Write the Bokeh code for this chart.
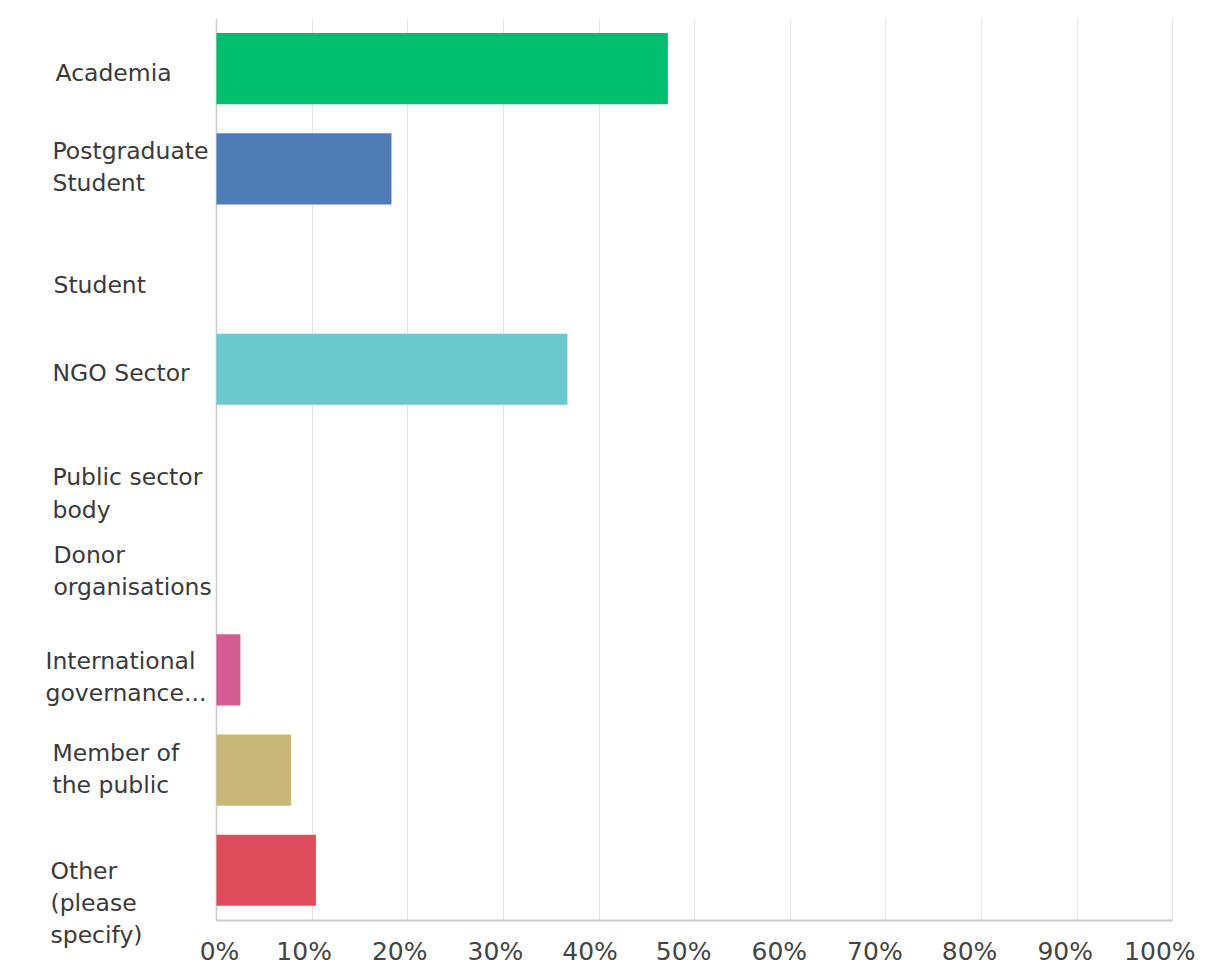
from bokeh.plotting import figure
from bokeh.models import ColumnDataSource, FixedTicker, Range1d, Span, BoxAnnotation
from bokeh.core.properties import value
from bokeh.embed import file_html
from bokeh.resources import INLINE

categories = ["Academia", "Postgraduate\nStudent", "Student", "NGO Sector",
              "Public sector\nbody", "Donor\norganisations",
              "International\ngovernance...", "Member of\nthe public",
              "Other\n(please\nspecify)"]
percent = [47.2, 18.3, 0.0, 36.7, 0.0, 0.0, 2.5, 7.8, 10.4]
colors = ["#00bf6f", "#507cb6", "#f9be00", "#6bc8cd", "#ff8b4f", "#7d5ba6",
          "#d55c93", "#c7b879", "#df4c5b"]
ticks = [0, 10, 20, 30, 40, 50, 60, 70, 80, 90, 100]
tick_labels = ["0%", "10%", "20%", "30%", "40%", "50%", "60%", "70%", "80%",
               "90%", "100%"]

# label style offsets (screen px)
label_dx = [-161, -164, -163, -164, -164, -163, -171, -164, -166]
label_dy = [4, -2, 16, 4, 24, 1, 7, -1, 33]
tick_dx = [3, -8, -8, -8, -9, -11, -11, -11, -12, -12, -13]

rows = list(range(len(categories)))
bottom_edge = len(rows) - 0.5

src = ColumnDataSource(dict(y=rows, right=percent, color=colors))
lab = ColumnDataSource(dict(y=rows, x=[0] * len(rows), text=categories,
                            dx=label_dx, dy=label_dy))
tsrc = ColumnDataSource(dict(x=ticks, y=[bottom_edge] * len(ticks),
                             text=tick_labels, dx=tick_dx))

# frame extends left of 0%, right of 100% and below the last row so that
# the category and tick labels fit inside it
left_pad = -18.4
right_pad = 103.0
bottom_pad = 0.54

p = figure(width=1201, height=974, output_backend="svg", toolbar_location=None,
           x_range=Range1d(left_pad, right_pad),
           y_range=Range1d(bottom_edge + bottom_pad, -0.5),
           min_border_left=40, min_border_right=0, min_border_top=18,
           min_border_bottom=0)
p.outline_line_color = None
p.background_fill_color = "white"
p.border_fill_color = "white"

p.xgrid.ticker = FixedTicker(ticks=ticks[1:])
p.xgrid.grid_line_color = "#e4e4e4"
p.xgrid.grid_line_width = 1
p.ygrid.grid_line_color = None

p.add_layout(Span(location=0, dimension="height", line_color="#cccccc",
                  line_width=1.5, level="underlay"))
p.add_layout(BoxAnnotation(top=bottom_edge, fill_color="white", fill_alpha=1,
                           line_color=None, level="underlay"))

p.hbar(y="y", left=0, right="right", height=0.71, color="color", source=src,
       line_color=None)

p.text(x="x", y="y", text="text", x_offset="dx", y_offset="dy", source=lab,
       text_align="left", text_baseline="middle", text_font=value("DejaVu Sans"),
       text_font_size="23.5px", text_color="#3a3a3a", text_line_height=1.15)

p.text(x="x", y="y", text="text", x_offset="dx", y_offset=31, source=tsrc,
       text_align="center", text_baseline="middle", text_font=value("DejaVu Sans"),
       text_font_size="25px", text_color="#444444")

p.xaxis.fixed_location = bottom_edge
p.xaxis.ticker = FixedTicker(ticks=[])
p.xaxis.bounds = (0, 100)
p.xaxis.major_label_standoff = 0
p.xaxis.major_tick_line_color = None
p.xaxis.minor_tick_line_color = None
p.xaxis.axis_line_color = "#cccccc"
p.xaxis.axis_line_width = 2

p.yaxis.ticker = FixedTicker(ticks=[])
p.yaxis.visible = False

open("out.html", "w").write(file_html(p, INLINE))
